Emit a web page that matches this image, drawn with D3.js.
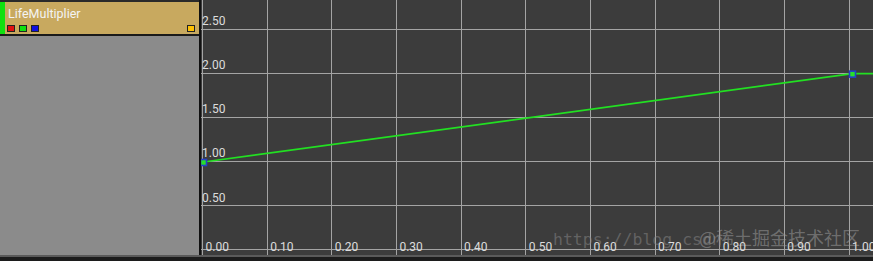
<!DOCTYPE html>
<html>
<head>
<meta charset="utf-8">
<script src="https://cdn.jsdelivr.net/npm/d3@7"></script>
<style>
  body { margin: 0; background: #3c3c3c; overflow: hidden; }
  svg { display: block; }
</style>
</head>
<body>
<svg id="chart"></svg>
<script>
var screen = {width: 873, height: 261}

// curve data
var curveName = "LifeMultiplier"
var keyTimes = [0.0, 1.0]
var keyValues = [1.0, 2.0]
var xTicks = [0.0, 0.1, 0.2, 0.3, 0.4, 0.5, 0.6, 0.7, 0.8, 0.9, 1.0]
var yTicks = [0.5, 1.0, 1.5, 2.0, 2.5]
var yGridLines = [0.0, 0.5, 1.0, 1.5, 2.0, 2.5]
var channelColors = ["#e01010", "#10e010", "#1010e0"]

var svg = d3.select("#chart")
  .attr("width", screen.width)
  .attr("height", screen.height)

var panelW = 199
var plotLeft = 201
var plotBottom = 255

// grid scales
var xScale = d3.scaleLinear().domain([0, 1]).range([202, 848.5])
var yScale = d3.scaleLinear().domain([0, 2.5]).range([249.3, 28.5])
// the editor draws the curve a few pixels off the grid
var xCurve = d3.scaleLinear().domain([0, 1]).range([203.5, 852.5])
var yCurve = d3.scaleLinear().domain([0, 2.5]).range([250.3, 29.5])

// plot background
svg.append("rect")
  .attr("x", 0).attr("y", 0)
  .attr("width", screen.width).attr("height", screen.height)
  .attr("fill", "#3c3c3c")

// grid
var grid = svg.append("g").attr("id", "grid")
grid.selectAll("line.vx")
  .data(xTicks)
  .enter()
  .append("line")
  .attr("class", "vx")
  .attr("x1", function(d) { return Math.round(xScale(d)) + 0.5 })
  .attr("x2", function(d) { return Math.round(xScale(d)) + 0.5 })
  .attr("y1", 0)
  .attr("y2", plotBottom)
  .attr("stroke", "#a4a4a4")
  .attr("stroke-width", 1)

grid.selectAll("line.hy")
  .data(yGridLines)
  .enter()
  .append("line")
  .attr("class", "hy")
  .attr("x1", plotLeft)
  .attr("x2", screen.width)
  .attr("y1", function(d) { return Math.round(yScale(d)) + 0.5 })
  .attr("y2", function(d) { return Math.round(yScale(d)) + 0.5 })
  .attr("stroke", "#a4a4a4")
  .attr("stroke-width", 1)

// watermark behind labels
svg.append("text")
  .attr("x", 553).attr("y", 245)
  .attr("font-family", "DejaVu Sans Mono, monospace")
  .attr("font-size", 16.5)
  .attr("fill", "#8a8a8a")
  .attr("fill-opacity", 0.5)
  .text("https://blog.csdn")
svg.append("text")
  .attr("x", 699).attr("y", 245)
  .attr("font-family", "Noto Sans CJK SC, sans-serif")
  .attr("font-size", 18)
  .attr("fill", "#9a9a9a")
  .attr("fill-opacity", 0.55)
  .text("@稀土掘金技术社区")

// axis labels
var labels = svg.append("g")
  .attr("font-family", "Roboto, sans-serif")
  .attr("font-size", 12)
  .attr("fill", "#dcdcdc")

labels.selectAll("text.xl")
  .data(xTicks)
  .enter()
  .append("text")
  .attr("class", "xl")
  .attr("x", function(d) { return xScale(d) + 3.5 })
  .attr("y", 250.5)
  .text(function(d) { return d3.format(".2f")(d) })

labels.selectAll("text.yl")
  .data(yTicks)
  .enter()
  .append("text")
  .attr("class", "yl")
  .attr("x", 202)
  .attr("y", function(d) { return yScale(d) - 3.5 })
  .text(function(d) { return d3.format(".2f")(d) })

// curve, held constant outside the keys
var curvePts = [[plotLeft, yCurve(keyValues[0])]]
keyTimes.forEach(function(t, i) {
  curvePts.push([xCurve(t), yCurve(keyValues[i])])
})
curvePts.push([screen.width, yCurve(keyValues[keyValues.length - 1])])

svg.append("path")
  .attr("d", d3.line()(curvePts))
  .attr("fill", "none")
  .attr("stroke", "#22e022")
  .attr("stroke-width", 1.7)

svg.selectAll("rect.key")
  .data(keyTimes)
  .enter()
  .append("rect")
  .attr("class", "key")
  .attr("x", function(d) { return xCurve(d) - 3 })
  .attr("y", function(d, i) { return yCurve(keyValues[i]) - 2.5 })
  .attr("width", 6)
  .attr("height", 6)
  .attr("fill", "#28e028")
  .attr("stroke", "#2440c8")
  .attr("stroke-width", 1.6)

// left track panel
svg.append("rect")
  .attr("x", 0).attr("y", 0)
  .attr("width", panelW).attr("height", plotBottom)
  .attr("fill", "#8b8b8b")

svg.append("rect")
  .attr("x", 0).attr("y", 0)
  .attr("width", panelW).attr("height", 2)
  .attr("fill", "#2a2a2a")

svg.append("rect")
  .attr("x", 0).attr("y", 2)
  .attr("width", panelW).attr("height", 32)
  .attr("fill", "#c8a95f")

svg.append("rect")
  .attr("x", 0).attr("y", 34)
  .attr("width", panelW).attr("height", 2)
  .attr("fill", "#1a1a1a")

svg.append("rect")
  .attr("x", 0).attr("y", 2)
  .attr("width", 5).attr("height", 32)
  .attr("fill", "#10e010")

svg.append("text")
  .attr("x", 8).attr("y", 18)
  .attr("font-family", "Roboto, sans-serif")
  .attr("font-size", 12.5)
  .attr("fill", "#f4f4f4")
  .text(curveName)

svg.selectAll("rect.chan")
  .data(channelColors)
  .enter()
  .append("rect")
  .attr("class", "chan")
  .attr("x", function(d, i) { return 7.5 + i * 12 })
  .attr("y", 25.5)
  .attr("width", 7)
  .attr("height", 6)
  .attr("fill", function(d) { return d })
  .attr("stroke", "#222")
  .attr("stroke-width", 1)

svg.append("rect")
  .attr("x", 187.5).attr("y", 25.5)
  .attr("width", 7).attr("height", 6)
  .attr("fill", "#ffc000")
  .attr("stroke", "#222")
  .attr("stroke-width", 1)

// divider between panel and plot
svg.append("rect")
  .attr("x", 199).attr("y", 0)
  .attr("width", 2).attr("height", plotBottom + 2)
  .attr("fill", "#111")

// bottom strip
svg.append("rect")
  .attr("x", 0).attr("y", plotBottom)
  .attr("width", screen.width).attr("height", 2)
  .attr("fill", "#5a5a5a")
svg.append("rect")
  .attr("x", 0).attr("y", plotBottom + 2)
  .attr("width", screen.width).attr("height", screen.height - plotBottom - 2)
  .attr("fill", "#1c1c1c")
</script>
</body>
</html>
